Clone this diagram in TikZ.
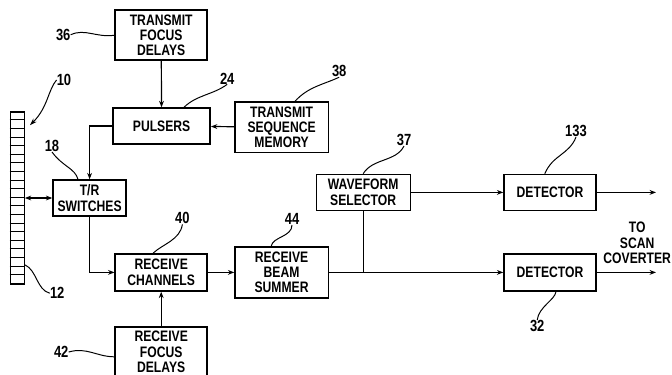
\documentclass[tikz,border=0pt]{standalone}
\usepackage{fontspec}
\setmainfont[FakeStretch=0.8]{Liberation Sans Bold}
\usetikzlibrary{arrows.meta, positioning, calc}

\begin{document}
\begin{tikzpicture}[
        tallbox/.style={rectangle, draw=black, line width=1pt, minimum width=2.3cm, minimum height=1.25cm, inner sep=0pt, align=center, font=\fontsize{10.8}{10.9}\selectfont},
        shortbox/.style={tallbox, minimum height=0.9cm},
        refnum/.style={inner sep=0pt, font=\fontsize{11.5}{11}\selectfont},
        arrow/.style={-{Stealth[length=1.6mm, width=1.2mm]}, line width=0.85pt, draw=black},
        squiggle/.style={line width=0.7pt, draw=black}
    ]
        \useasboundingbox (0,0) rectangle (16.8,-9.35);

        \node[tallbox] (txdelays) at (4.03,-0.88) {TRANSMIT\\FOCUS\\DELAYS};
        \node[shortbox, minimum width=2.43cm] (pulsers) at (4.04,-3.15) {PULSERS};
        \node[tallbox, minimum width=2.33cm] (txmemory) at (7.04,-3.18) {TRANSMIT\\SEQUENCE\\MEMORY};
        \node[shortbox, minimum width=1.83cm] (trswitch) at (2.24,-4.95) {T/R\\SWITCHES};
        \node[shortbox, minimum height=0.93cm] (rxchan) at (4.03,-6.81) {RECEIVE\\CHANNELS};
        \node[tallbox, minimum width=2.33cm, minimum height=1.28cm] (summer) at (7.04,-6.81) {RECEIVE\\BEAM\\SUMMER};
        \node[tallbox] (rxdelays) at (4.03,-8.8) {RECEIVE\\FOCUS\\DELAYS};
        \node[shortbox, minimum width=2.35cm] (selector) at (9.08,-4.81) {WAVEFORM\\SELECTOR};
        \node[shortbox] (detupper) at (13.75,-4.81) {DETECTOR};
        \node[shortbox, minimum height=0.93cm] (detlower) at (13.75,-6.81) {DETECTOR};
        \node[draw=black, line width=0.9pt, minimum width=0.35cm, minimum height=4.3cm, inner sep=0pt] (array) at (0.43,-4.95) {};
        \foreach \i in {1,...,19}
            \draw[line width=0.7pt] ($(array.north west)+(0,-0.215*\i)$) -- ++(0.35,0);

        \node[refnum] (n36) at (1.58,-0.87) {36};
        \node[refnum] (n24) at (5.68,-1.96) {24};
        \node[refnum] (n38) at (8.48,-1.78) {38};
        \node[refnum] (n10) at (1.6,-2) {10};
        \node[refnum] (n18) at (1.3,-3.65) {18};
        \node[refnum] (n12) at (1.43,-7.33) {12};
        \node[refnum] (n40) at (4.56,-5.46) {40};
        \node[refnum] (n44) at (7.3,-5.48) {44};
        \node[refnum] (n42) at (1.53,-8.8) {42};
        \node[refnum] (n37) at (10.1,-3.5) {37};
        \node[refnum] (n133) at (14.4,-3.28) {133};
        \node[refnum] (n32) at (13.43,-8.15) {32};
        \node[refnum, align=center, font=\fontsize{10.8}{11}\selectfont] (scan) at (15.93,-6.08) {TO\\SCAN\\COVERTER};

        \coordinate (upperout) at (16.4,-4.81);
        \coordinate (lowerout) at (16.4,-6.81);
        \coordinate (arraytip) at (0.75,-3.13);

        \draw[arrow] (txdelays) -- (pulsers);
        \draw[arrow] (txmemory) -- (pulsers);
        \draw[arrow] (pulsers.west) -| (trswitch.north);
        \draw[arrow, {Stealth[length=1.6mm, width=1.2mm]}-{Stealth[length=1.6mm, width=1.2mm]}] (array.east) -- (trswitch.west);
        \draw[arrow] (trswitch.south) |- (rxchan.west);
        \draw[arrow] (rxdelays) -- (rxchan);
        \draw[arrow] (rxchan) -- (summer);
        \draw[arrow] (summer.east) -- (detlower.west);
        \draw[line width=0.85pt] (selector.south) -- (selector.south |- detlower.west);
        \draw[arrow] (selector) -- (detupper);
        \draw[arrow] (detupper) -- (upperout);
        \draw[arrow] (detlower) -- (lowerout);

        \draw[squiggle] (n36.east) .. controls (2.12,-0.7) and (2.42,-0.95) .. (txdelays.west);
        \draw[squiggle] ([xshift=0.56cm]pulsers.north) .. controls (4.92,-2.37) and (5.33,-2.37) .. (n24.south);
        \draw[squiggle] ([xshift=0.33cm]txmemory.north) .. controls (7.7,-2.17) and (8.07,-2.12) .. (n38.south);
        \draw[squiggle, -{Stealth[length=1.8mm, width=1.2mm]}] (n10.west) .. controls (1.2,-2.25) and (1.2,-2.68) .. (arraytip);
        \draw[squiggle] (n18.south) .. controls (1.57,-4.17) and (1.87,-4.2) .. ([xshift=-0.29cm]trswitch.north);
        \draw[squiggle] (0.62,-6.62) .. controls (0.92,-6.75) and (0.92,-7.25) .. (n12.west);
        \draw[squiggle] ([xshift=-0.2cm]rxchan.north) .. controls (4.07,-6.1) and (4.5,-6) .. (n40.south);
        \draw[squiggle] ([xshift=-0.26cm]summer.north) .. controls (6.82,-5.92) and (7.3,-5.92) .. (n44.south);
        \draw[squiggle] (n42.east) .. controls (2.17,-8.67) and (2.42,-8.92) .. ([yshift=-0.12cm]rxdelays.west);
        \draw[squiggle] (selector.north) .. controls (9.32,-3.95) and (9.9,-4.05) .. (n37.south);
        \draw[squiggle] ([xshift=-0.13cm]detupper.north) .. controls (13.82,-3.87) and (14.22,-3.87) .. (n133.south);
        \draw[squiggle] ([xshift=0.15cm]detlower.south) .. controls (13.87,-7.5) and (13.47,-7.67) .. (n32.north);
    \end{tikzpicture}
\end{document}
